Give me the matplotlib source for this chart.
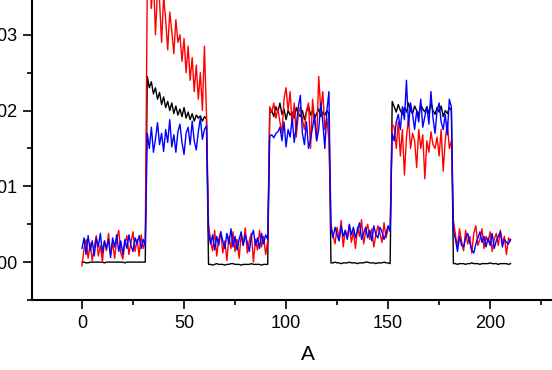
import numpy as np
import matplotlib
matplotlib.use("Agg")
import matplotlib.pyplot as plt
from matplotlib.ticker import MultipleLocator

# values in units of 1e-4, x = 0..210 step 1
x_values = list(range(0, 211))

black_seg = [
    [0, 0, -1, -1, 0, 0, 0, 0, 0, 0, 0, -1, 0, 0, 0, 0, 0, 0, 0, 0, 0, -1, 0, 0, 0, 0, 0, 0, 0, 0, 0, 0],
    [245, 230, 238, 222, 230, 215, 224, 208, 218, 204, 212, 200, 210, 196, 206, 194, 202, 192, 204, 190, 198, 188, 196, 186, 194, 190, 193, 186, 192, 189],
    [-3, -3, -4, -3, -2, -3, -3, -3, -4, -3, -3, -2, -2, -3, -3, -3, -4, -3, -3, -3, -3, -2, -3, -3, -3, -3, -4, -3, -3, -3],
    [196, 200, 192, 205, 198, 210, 195, 202, 188, 200, 194, 198, 190, 204, 196, 192, 200, 188, 198, 206, 194, 200, 190, 196, 202, 192, 198, 194, 200, 196],
    [-1, -1, 0, -1, -1, -2, -1, -1, -1, 0, -1, -1, -1, -2, -1, -1, -1, 0, 0, -1, -1, -1, -2, -1, -1, -1, 0, -1, -1, -2],
    [212, 205, 198, 208, 200, 195, 204, 198, 210, 200, 196, 206, 200, 194, 208, 202, 198, 205, 196, 210, 200, 195, 204, 198, 206, 192, 200, 196, 204, 200],
    [-2, -2, -3, -2, -2, -2, -3, -2, -2, -1, -2, -2, -2, -3, -2, -2, -2, -2, -1, -2, -2, -2, -3, -2, -2, -2, -2, -3, -2],
]
red_seg = [
    [-5, 18, 30, 5, 25, 2, 20, 35, 8, 22, 0, 28, 15, 38, 10, 25, 5, 30, 42, 12, 4, 24, 35, 10, 26, 40, 14, 30, 8, 36, 18, 28],
    [370, 400, 335, 380, 300, 360, 345, 290, 350, 320, 280, 330, 305, 275, 320, 290, 300, 265, 295, 250, 285, 240, 270, 225, 260, 215, 250, 200, 285, 195],
    [50, 28, 15, 42, 8, 30, 40, 12, 28, 2, 34, 18, 40, 14, 30, 5, 36, 22, 45, 12, 28, 38, 0, 30, 16, 42, 20, 34, 10, 28],
    [205, 198, 210, 190, 202, 185, 170, 215, 230, 200, 225, 180, 210, 165, 195, 205, 188, 175, 200, 210, 150, 215, 185, 160, 245, 200, 225, 175, 190, 160],
    [50, 36, 24, 46, 30, 55, 20, 42, 32, 48, 26, 40, 18, 46, 34, 56, 24, 40, 50, 30, 44, 20, 36, 48, 38, 26, 52, 32, 44, 46],
    [182, 178, 150, 185, 140, 175, 115, 165, 190, 150, 170, 160, 125, 175, 150, 168, 110, 160, 145, 172, 155, 150, 165, 140, 175, 120, 160, 185, 150, 160],
    [55, 36, 20, 44, 28, 15, 42, 24, 34, 12, 38, 48, 22, 30, 44, 18, 34, 26, 40, 14, 30, 38, 22, 42, 26, 34, 10, 32, 28],
]
blue_seg = [
    [18, 32, 10, 35, 15, 28, 8, 32, 20, 38, 12, 28, 18, 30, 6, 32, 20, 36, 14, 28, 10, 30, 18, 36, 22, 14, 32, 24, 35, 18, 30, 22],
    [170, 150, 178, 145, 162, 184, 155, 170, 146, 175, 158, 188, 152, 168, 145, 172, 182, 158, 142, 170, 178, 155, 186, 160, 148, 172, 190, 162, 175, 180],
    [40, 24, 36, 16, 34, 22, 40, 28, 18, 38, 24, 44, 20, 34, 16, 30, 40, 22, 36, 26, 14, 34, 42, 22, 32, 18, 38, 24, 36, 30],
    [166, 168, 164, 170, 172, 178, 160, 185, 152, 175, 165, 190, 158, 180, 205, 220, 170, 155, 185, 150, 162, 178, 195, 160, 175, 210, 185, 150, 200, 225],
    [44, 32, 46, 36, 28, 48, 34, 42, 30, 50, 36, 46, 32, 42, 52, 30, 38, 46, 32, 42, 28, 48, 36, 32, 46, 40, 30, 38, 48, 40],
    [170, 160, 185, 195, 175, 205, 188, 240, 180, 210, 195, 175, 200, 185, 215, 178, 192, 205, 182, 225, 190, 170, 200, 210, 185, 175, 195, 168, 215, 205],
    [42, 30, 14, 34, 22, 20, 32, 38, 26, 16, 12, 24, 32, 40, 26, 34, 20, 32, 22, 38, 18, 28, 34, 40, 20, 30, 26, 24, 30],
]

scale = 1e-4
x = np.array(x_values)
black = np.concatenate([np.array(s) for s in black_seg]) * scale
red = np.concatenate([np.array(s) for s in red_seg]) * scale
blue = np.concatenate([np.array(s) for s in blue_seg]) * scale

plt.rcParams['font.family'] = ['Liberation Sans', 'DejaVu Sans']

fig = plt.figure(figsize=(5.52, 3.70), dpi=100)
ax = fig.add_axes([32/552, 70/370, 1.0, 341/370])

ax.plot(x, black, color='black', lw=1.0)
ax.plot(x, red, color='red', lw=1.0)
ax.plot(x, blue, color='blue', lw=1.0)

ax.set_xlim(-24.5, 246)
ax.set_ylim(-0.005, 0.04)

for s in ['top', 'right']:
    ax.spines[s].set_visible(False)
for s in ['left', 'bottom']:
    ax.spines[s].set_linewidth(1.5)

ax.xaxis.set_major_locator(MultipleLocator(50))
ax.xaxis.set_minor_locator(MultipleLocator(25))
ax.yaxis.set_major_locator(MultipleLocator(0.01))
ax.yaxis.set_minor_locator(MultipleLocator(0.005))
ax.yaxis.set_major_formatter(matplotlib.ticker.FuncFormatter(lambda v, p: f"{v:.2f}"))
ax.tick_params(which='major', direction='out', length=6.5, width=1.2, labelsize=13, pad=4)
ax.tick_params(which='minor', direction='out', length=3.6, width=1.2)

ax.set_xlabel('A', fontsize=15, labelpad=10)

fig.savefig('out.png', dpi=100)
